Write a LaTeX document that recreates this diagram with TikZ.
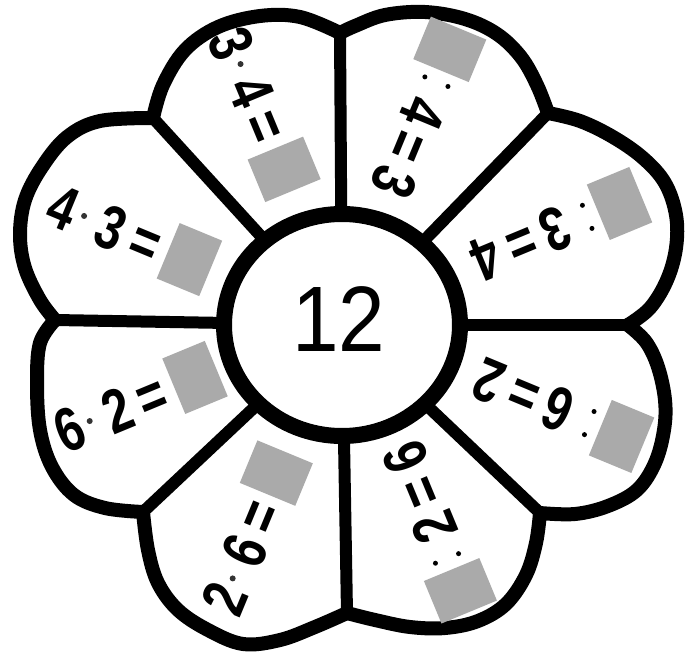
\documentclass[tikz,border=0pt]{standalone}
\usepackage{fontspec}
\usepackage{graphicx}
\setmainfont{Liberation Sans}
\definecolor{boxgray}{RGB}{170,170,170}
\newcommand{\dg}[1]{\scalebox{0.78}[1]{#1}}
\begin{document}
\begin{tikzpicture}[x=1pt,y=1pt,line cap=round,line join=round,
  outline/.style={line width=14pt},
  spokeline/.style={line width=12pt},
  dig/.style={font=\bfseries\fontsize{62}{62}\selectfont,inner sep=0pt,transform shape,text height=44pt,text depth=0pt},
  ansbox/.style={fill=boxgray,minimum width=46pt,minimum height=60pt,inner sep=0pt,transform shape},
  dotm/.style={circle,fill=black!80,inner sep=0pt,minimum size=6pt},
  coldot/.style={circle,fill=black,inner sep=0pt,minimum size=5pt}]
\useasboundingbox (0,-658) rectangle (696,0);
\fill[white] (0,-658) rectangle (696,0);
% junctions
\coordinate (C) at (342,-325);
\coordinate (J0) at (628,-325);
\coordinate (J45) at (548,-113);
\coordinate (J90) at (340,-33);
\coordinate (J135) at (153,-118);
\coordinate (J180) at (55,-320);
\coordinate (J225) at (143,-512);
\coordinate (J270) at (347,-613);
\coordinate (J315) at (540,-513);
% petal outlines
\draw[outline] plot[smooth,tension=0.6] coordinates {(153,-118) (163,-85) (185,-50) (218,-27) (260,-16) (300,-17) (340,-33)};
\draw[outline] plot[smooth,tension=0.6] coordinates {(153,-118) (100,-121) (67,-137) (42,-167) (25,-200) (20,-235) (25,-268) (40,-300) (55,-320)};
\draw[outline] plot[smooth,tension=0.6] coordinates {(55,-320) (40,-343) (37,-383) (40,-430) (52,-467) (74,-495) (105,-508) (143,-512)};
\draw[outline] plot[smooth,tension=0.6] coordinates {(143,-512) (148,-550) (158,-583) (178,-610) (208,-630) (243,-644) (280,-640) (315,-627) (347,-613)};
\draw[outline] plot[smooth,tension=0.6] coordinates {(347,-613) (375,-620) (410,-627) (445,-628) (478,-621) (506,-604) (526,-575) (536,-543) (540,-513)};
\draw[outline] plot[smooth,tension=0.6] coordinates {(540,-513) (575,-514) (608,-506) (637,-490) (655,-463) (664,-430) (665,-400) (658,-367) (646,-342) (628,-325)};
\draw[outline] plot[smooth,tension=0.6] coordinates {(628,-325) (650,-308) (667,-280) (676,-248) (676,-215) (665,-183) (643,-158) (613,-137) (580,-121) (548,-113)};
\draw[outline] plot[smooth,tension=0.6] coordinates {(548,-113) (537,-85) (521,-57) (497,-34) (465,-19) (425,-12) (385,-15) (355,-26) (340,-33)};
% spokes
\foreach \j in {J0,J45,J90,J135,J180,J225,J270,J315}
  \draw[spokeline] (C) -- (\j);
% centre
\filldraw[fill=white,line width=16pt] (C) ellipse [x radius=118,y radius=111];
\node[font=\fontsize{93}{93}\selectfont,inner sep=0pt,text height=67pt,text depth=0pt] (ctr) at (339,-318) {\scalebox{0.9}[1]{12}};
% left petals
\begin{scope}[shift={(C)},shift={(111:234)},rotate=-67.5]
  \node[dig] (a1) at (-68,0) {\dg{3}};
  \node[dotm] (a2) at (-46,0) {};
  \node[dig] (a3) at (-16,0) {\dg{4}};
  \node[dig] (a4) at (21,0) {\dg{=}};
  \node[ansbox] (a5) at (68,0) {};
\end{scope}
\begin{scope}[shift={(C)},shift={(157:234)},rotate=-22.5]
  \node[dig] (b1) at (-68,0) {\dg{4}};
  \node[dotm] (b2) at (-46,0) {};
  \node[dig] (b3) at (-16,0) {\dg{3}};
  \node[dig] (b4) at (21,0) {\dg{=}};
  \node[ansbox] (b5) at (68,0) {};
\end{scope}
\begin{scope}[shift={(C)},shift={(200.5:224)},rotate=22.5]
  \node[dig] (c1) at (-68,0) {\dg{6}};
  \node[dotm] (c2) at (-46,0) {};
  \node[dig] (c3) at (-16,0) {\dg{2}};
  \node[dig] (c4) at (21,0) {\dg{=}};
  \node[ansbox] (c5) at (68,0) {};
\end{scope}
\begin{scope}[shift={(C)},shift={(246.5:230)},rotate=67.5]
  \node[dig] (d1) at (-68,0) {\dg{2}};
  \node[dotm] (d2) at (-46,0) {};
  \node[dig] (d3) at (-16,0) {\dg{6}};
  \node[dig] (d4) at (21,0) {\dg{=}};
  \node[ansbox] (d5) at (68,0) {};
\end{scope}
% right petals
\begin{scope}[shift={(C)},shift={(-65.5:220)},rotate=112.5]
  \node[ansbox] (e1) at (-71,0) {};
  \node[coldot] (e2a) at (-36,12.5) {};
  \node[coldot] (e2b) at (-36,-12.5) {};
  \node[dig] (e3) at (-2,0) {\dg{2}};
  \node[dig] (e4) at (35,0) {\dg{=}};
  \node[dig] (e5) at (73,0) {\dg{6}};
\end{scope}
\begin{scope}[shift={(C)},shift={(-21.5:230)},rotate=157.5]
  \node[ansbox] (f1) at (-71,0) {};
  \node[coldot] (f2a) at (-36,12.5) {};
  \node[coldot] (f2b) at (-36,-12.5) {};
  \node[dig] (f3) at (-2,0) {\dg{6}};
  \node[dig] (f4) at (35,0) {\dg{=}};
  \node[dig] (f5) at (73,0) {\dg{2}};
\end{scope}
\begin{scope}[shift={(C)},shift={(24:232)},rotate=202.5]
  \node[ansbox] (g1) at (-71,0) {};
  \node[coldot] (g2a) at (-36,12.5) {};
  \node[coldot] (g2b) at (-36,-12.5) {};
  \node[dig] (g3) at (-2,0) {\dg{3}};
  \node[dig] (g4) at (35,0) {\dg{=}};
  \node[dig] (g5) at (73,0) {\dg{4}};
\end{scope}
\begin{scope}[shift={(C)},shift={(69:225)},rotate=247.5]
  \node[ansbox] (h1) at (-71,0) {};
  \node[coldot] (h2a) at (-36,12.5) {};
  \node[coldot] (h2b) at (-36,-12.5) {};
  \node[dig] (h3) at (-2,0) {\dg{4}};
  \node[dig] (h4) at (35,0) {\dg{=}};
  \node[dig] (h5) at (73,0) {\dg{3}};
\end{scope}
\end{tikzpicture}
\end{document}
